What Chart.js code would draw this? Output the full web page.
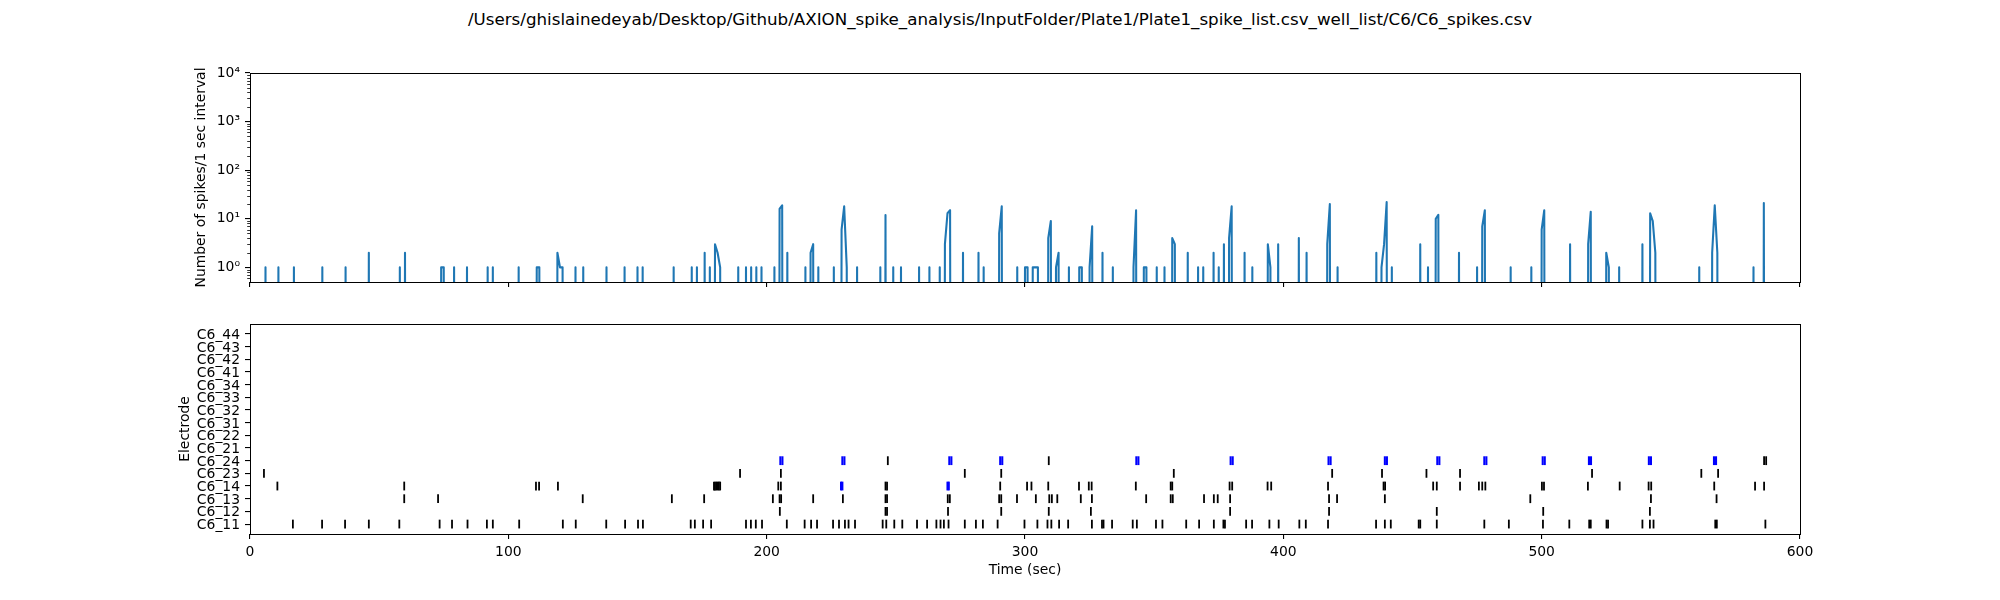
<!DOCTYPE html>
<html>
<head>
<meta charset="utf-8">
<style>
html,body{margin:0;padding:0;background:#fff;width:2000px;height:600px;overflow:hidden}
canvas{position:absolute;left:0;display:block}
#figtitle{position:absolute;left:0;top:9px;width:2000px;text-align:center;font:16.7px/20px 'DejaVu Sans';color:#000;white-space:nowrap}
</style>
<script src="https://cdn.jsdelivr.net/npm/chart.js@4/dist/chart.umd.min.js"></script>
</head>
<body>
<div id="figtitle"></div>
<canvas id="rate" width="2000" height="299" style="top:1px;width:2000px;height:299px"></canvas>
<canvas id="raster" width="2000" height="300" style="top:300px;width:2000px;height:300px"></canvas>
<script>
const figureTitle = "/Users/ghislainedeyab/Desktop/Github/AXION_spike_analysis/InputFolder/Plate1/Plate1_spike_list.csv_well_list/C6/C6_spikes.csv";
const rateAxisTitle = "Number of spikes/1 sec interval";
const rasterAxisTitle = "Electrode";
const timeAxisTitle = "Time (sec)";

const electrodes = ["C6_11","C6_12","C6_13","C6_14","C6_23","C6_24","C6_21","C6_22","C6_31","C6_32","C6_33","C6_34","C6_41","C6_42","C6_43","C6_44"];
const timeTicks = [0,100,200,300,400,500,600];
const rateMajorTicks = [1,10,100,1000,10000];
const rateMinorTicks = [0.6,0.7,0.8,0.9,2,3,4,5,6,7,8,9,20,30,40,50,60,70,80,90,200,300,400,500,600,700,800,900,2000,3000,4000,5000,6000,7000,8000,9000];

const binSeconds = [6,11,17,28,37,46,58,60,74,75,79,84,92,94,104,111,112,119,120,121,126,129,138,145,150,152,164,171,173,176,178,180,181,182,189,192,194,196,198,203,205,206,208,215,217,218,220,226,229,230,231,235,244,246,249,252,259,263,267,269,270,271,276,282,284,290,291,297,300,301,303,304,305,309,310,312,313,317,321,322,325,326,330,334,342,343,346,347,351,354,357,358,363,367,369,373,375,377,379,380,385,388,394,395,398,406,409,417,418,421,436,438,439,440,442,453,456,459,460,468,475,477,478,488,496,500,501,511,518,519,525,526,530,539,542,543,544,561,566,567,568,582,586];
const binCounts  = [1,1,1,1,1,2,1,2,1,1,1,1,1,1,1,1,1,2,1,1,1,1,1,1,1,1,1,1,1,2,1,3,2,1,1,1,1,1,1,1,16,19,2,1,2,3,1,1,6,18,1,1,1,12,1,1,1,1,1,3,13,15,2,2,1,5,18,1,1,1,1,1,1,4,9,1,2,1,1,1,1,7,2,1,1,15,1,1,1,1,4,3,2,1,1,2,1,3,4,18,2,1,3,1,3,4,2,3,20,1,2,1,3,22,1,3,1,10,12,2,1,7,15,1,1,6,15,3,3,14,2,1,1,3,13,9,2,1,2,19,2,1,21];

const spikes11 = [16.6,27.9,36.8,46.0,57.8,73.4,78.2,84.2,91.7,94.0,104.2,121.1,126.1,137.9,145.2,150.2,152.1,170.6,172.2,175.4,178.5,192,193.9,195.8,198.2,207.8,214.7,217.2,219.5,225.7,228,230.3,231.7,234.2,244.9,246.3,249.4,252.5,258.2,262.1,265.7,267.3,268.6,270.4,276.7,281,283.7,289.4,299.8,304.8,308.7,310.2,313.2,316.7,325.9,329.8,330.4,333.7,341.7,343.3,350.7,353.2,362.4,367.4,373.1,376.8,377.4,385.6,387.9,394.6,398.2,406.2,408.7,417.3,435.9,439.3,441.6,452.4,453,459.4,477.8,487.3,500.5,510.7,518.4,519,525.1,525.7,539,541.9,543.3,567.2,567.8,586.6];
const spikes12 = [205.1,246.0,246.6,270.2,290.8,309.2,325.5,379.4,417.7,459.4,500.6,541.9];
const spikes13 = [59.7,72.8,128.8,163.3,175.8,202.4,205.0,205.6,218,229.5,246.0,246.6,270.1,270.9,290.0,290.8,296.9,304.2,309.4,310.4,312.5,321.6,325.9,346.9,356.4,357.2,369.3,373.1,374.6,379.4,417.7,420.8,439.3,495.6,542.3,567.7];
const spikes14 = [10.6,59.7,110.7,111.9,119.2,179.6,180,180.5,181,181.5,182,204.5,205.5,246.0,246.6,290.4,300.8,302.5,309,320.9,324.7,325.8,342.9,356.4,357.0,379.2,380.2,393.9,395.3,417.3,438.8,439.4,458,459.4,468.4,475.7,477,478.2,500.1,500.9,517.9,530.2,541.4,542.4,566.8,582.6,586.1];
const spikes23 = [5.4,189.7,205.5,276.7,290.8,357.6,418.9,438.2,455.4,468.4,519.5,561.8,568.3];
const spikes24 = [246.9,309.2,586.1,586.9];
const burst14 = [228.8,229.3,270,270.5];
const burst24 = [205.3,206.1,229.3,230.1,270.7,271.5,290.4,291.2,343.1,343.9,379.6,380.4,417.5,418.3,439.3,440.1,459.6,460.4,477.8,478.6,500.4,501.2,518.3,519.1,541.5,542.3,566.7,567.5];

document.getElementById("figtitle").textContent = figureTitle;

const FONT = "'DejaVu Sans'";
const EMPTY_BIN = 1e-30;
const rateValues = new Array(601).fill(EMPTY_BIN);
binSeconds.forEach((s, i) => { rateValues[s] = binCounts[i]; });
const ratePoints = rateValues.map((v, s) => ({x: s, y: v}));

function rowPoints(times, row) { return times.map(t => ({x: t, y: row})); }
function rasterSet(times, row, color, width) {
  return {type: "scatter", data: rowPoints(times, row), showLine: false,
    pointStyle: "line", pointRotation: 90, pointRadius: 4.4,
    pointBorderColor: color, pointBackgroundColor: color, pointBorderWidth: width, clip: false};
}

const frame = {
  id: "frame",
  afterDatasetsDraw(chart) {
    const a = chart.chartArea, c = chart.ctx;
    c.save();
    c.strokeStyle = "#000"; c.lineWidth = 1;
    c.strokeRect(a.left + 0.5, a.top + 0.5, a.right - a.left, a.bottom - a.top);
    const y = chart.scales.y;
    if (y.type === "logarithmic") {
      c.beginPath();
      rateMinorTicks.forEach(v => {
        const p = Math.round(y.getPixelForValue(v)) + 0.5;
        c.moveTo(a.left, p); c.lineTo(a.left - 2.8, p);
      });
      c.lineWidth = 0.8; c.stroke();
    }
    c.restore();
  }
};

function xScale(showLabels, fitHeight) {
  return {
    type: "linear", min: 0, max: 600,
    afterBuildTicks(s) { s.ticks = timeTicks.map(v => ({value: v})); },
    afterFit(s) { s.height = fitHeight; },
    grid: {drawOnChartArea: false, drawTicks: true, tickLength: 5, color: "#000", lineWidth: 1.1},
    border: {display: false},
    ticks: {display: showLabels, autoSkip: false, maxRotation: 0, color: "#000", padding: 5, font: {family: FONT, size: 13.9}},
    title: {display: showLabels, text: timeAxisTitle, color: "#000", font: {family: FONT, size: 13.9}, padding: {top: 0, bottom: 21}}
  };
}
const yCommon = {
  afterFit(s) { s.width = 250; },
  grid: {drawOnChartArea: false, drawTicks: true, tickLength: 5, color: "#000", lineWidth: 1.1},
  border: {display: false}
};
const baseOptions = {
  responsive: false, animation: false, events: [], devicePixelRatio: 1
};

new Chart(document.getElementById("rate"), {
  type: "line",
  data: {datasets: [{data: ratePoints, borderColor: "#1f77b4", borderWidth: 2.08, pointRadius: 0, tension: 0, fill: false, borderJoinStyle: "round", borderCapStyle: "butt", clip: 0}]},
  options: Object.assign({}, baseOptions, {
    layout: {padding: {left: 0, right: 200, top: 72, bottom: 0}},
    plugins: {legend: {display: false}, tooltip: {enabled: false}, title: {display: false}},
    scales: {
      x: xScale(false, 18),
      y: Object.assign({}, yCommon, {
        type: "logarithmic", min: 0.5, max: 10000,
        afterBuildTicks(s) { s.ticks = rateMajorTicks.map(v => ({value: v, major: true})); },
        ticks: {autoSkip: false, color: "#000", padding: 5, font: {family: FONT, size: 13.9},
          callback(v) { return "10" + ["\u2070","\u00b9","\u00b2","\u00b3","\u2074"][Math.round(Math.log10(v))]; }},
        title: {display: true, text: rateAxisTitle, color: "#000", font: {family: FONT, size: 13.9}, padding: {top: 193, bottom: 0}}
      })
    }
  }),
  plugins: [frame]
});

new Chart(document.getElementById("raster"), {
  type: "scatter",
  data: {datasets: [
    rasterSet(spikes11, 0, "#000", 1.8),
    rasterSet(spikes12, 1, "#000", 1.8),
    rasterSet(spikes13, 2, "#000", 1.8),
    rasterSet(spikes14, 3, "#000", 1.8),
    rasterSet(spikes23, 4, "#000", 1.8),
    rasterSet(spikes24, 5, "#000", 1.8),
    rasterSet(burst14, 3, "#0000ff", 2.08),
    rasterSet(burst24, 5, "#0000ff", 2.08)
  ]},
  options: Object.assign({}, baseOptions, {
    layout: {padding: {left: 0, right: 200, top: 24, bottom: 0}},
    plugins: {legend: {display: false}, tooltip: {enabled: false}, title: {display: false}},
    scales: {
      x: xScale(true, 66),
      y: Object.assign({}, yCommon, {
        type: "linear", min: -0.785, max: 15.785,
        afterBuildTicks(s) { s.ticks = electrodes.map((e, i) => ({value: i})); },
        ticks: {autoSkip: false, color: "#000", padding: 5, labelOffset: 1.5, font: {family: FONT, size: 13.9},
          callback(v) { return electrodes[v]; }},
        title: {display: true, text: rasterAxisTitle, color: "#000", font: {family: FONT, size: 13.9}, padding: {top: 177, bottom: 0}}
      })
    }
  }),
  plugins: [frame]
});
</script>
</body>
</html>
